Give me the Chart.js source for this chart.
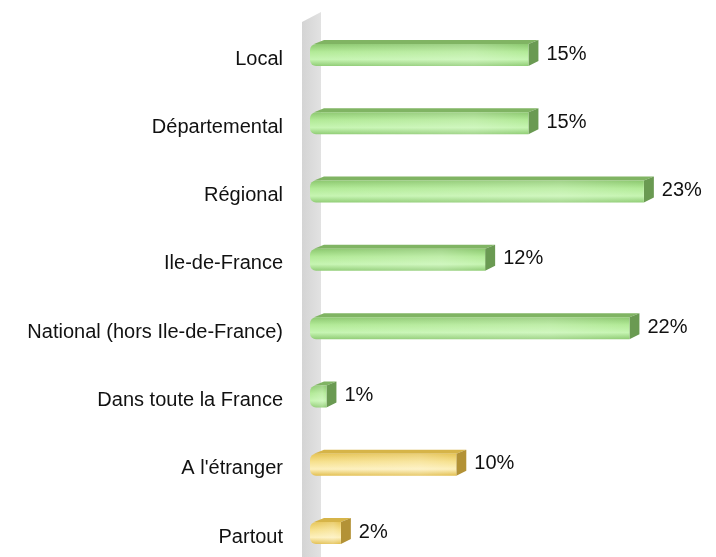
<!DOCTYPE html>
<html>
<head>
<meta charset="utf-8">
<script src="https://cdn.jsdelivr.net/npm/chart.js@4.4.1/dist/chart.umd.min.js"></script>
<style>
  html, body { margin: 0; padding: 0; background: #fff; }
  canvas { display: block; }
</style>
</head>
<body>
<canvas id="bars" width="716" height="557"></canvas>
<script>
const categories = ['Local', 'Départemental', 'Régional', 'Ile-de-France',
  'National (hors Ile-de-France)', 'Dans toute la France', "A l'étranger", 'Partout'];
const shares = [15, 15, 23, 12, 22, 1, 10, 2];
const valueLabels = ['15%', '15%', '23%', '12%', '22%', '1%', '10%', '2%'];
const tones = ['green', 'green', 'green', 'green', 'green', 'green', 'yellow', 'yellow'];

const palette = {
  green: { top: '#80b463', side: '#6a9a52', f0: '#8cc86f', f1: '#b2ea97', f2: '#c6f5b2', f3: '#8fcc74' },
  yellow: { top: '#d6b448', side: '#b39236', f0: '#e6c455', f1: '#f6e08c', f2: '#fdf0bc', f3: '#e2be4e' }
};

const DX = 10, DY = -4;

// grey back wall behind the bars
const wallPlugin = {
  id: 'wall',
  beforeDatasetsDraw(chart) {
    const ctx = chart.ctx;
    const x0 = chart.scales.x.getPixelForValue(0);
    const g = ctx.createLinearGradient(x0 - 10, 0, x0 + 9, 0);
    g.addColorStop(0, '#d4d4d4');
    g.addColorStop(1, '#e2e2e2');
    ctx.save();
    ctx.fillStyle = g;
    ctx.beginPath();
    ctx.moveTo(x0 - 10, 22);
    ctx.lineTo(x0 + 9, 12);
    ctx.lineTo(x0 + 9, chart.height);
    ctx.lineTo(x0 - 10, chart.height);
    ctx.closePath();
    ctx.fill();
    ctx.restore();
  }
};

// 3D bars with top and side faces, plus value labels
const bars3d = {
  id: 'bars3d',
  afterDatasetsDraw(chart) {
    const ctx = chart.ctx;
    const meta = chart.getDatasetMeta(0);
    meta.data.forEach((el, i) => {
      const p = el.getProps(['x', 'y', 'base', 'height'], true);
      const c = palette[tones[i]];
      const left = p.base - 2, right = p.x;
      const top = p.y - p.height / 2, bot = p.y + p.height / 2;
      ctx.save();

      // top face
      ctx.fillStyle = c.top;
      ctx.beginPath();
      ctx.moveTo(left + 4, top);
      ctx.lineTo(left + 4 + DX, top + DY);
      ctx.lineTo(right + DX, top + DY);
      ctx.lineTo(right, top);
      ctx.closePath();
      ctx.fill();

      // side face
      ctx.fillStyle = c.side;
      ctx.beginPath();
      ctx.moveTo(right, top);
      ctx.lineTo(right + DX, top + DY);
      ctx.lineTo(right + DX, bot + DY - 1);
      ctx.lineTo(right, bot);
      ctx.closePath();
      ctx.fill();

      // front face
      const g = ctx.createLinearGradient(0, top, 0, bot);
      g.addColorStop(0, c.f0);
      g.addColorStop(0.35, c.f1);
      g.addColorStop(0.7, c.f2);
      g.addColorStop(1, c.f3);
      ctx.fillStyle = g;
      ctx.beginPath();
      ctx.roundRect(left, top, right - left, bot - top, [6, 0, 0, 6]);
      ctx.fill();

      // soft highlight towards the right end
      const h = ctx.createLinearGradient(left, 0, right, 0);
      h.addColorStop(0, 'rgba(255,255,255,0)');
      h.addColorStop(0.75, 'rgba(255,255,255,0.18)');
      h.addColorStop(1, 'rgba(255,255,255,0)');
      ctx.fillStyle = h;
      ctx.beginPath();
      ctx.roundRect(left, top, right - left, bot - top, [6, 0, 0, 6]);
      ctx.fill();

      // value label
      ctx.fillStyle = '#111';
      ctx.font = '20px "Liberation Sans", Arial, sans-serif';
      ctx.textAlign = 'left';
      ctx.textBaseline = 'middle';
      ctx.fillText(valueLabels[i], right + DX + 8, p.y - 1);
      ctx.restore();
    });
  }
};

new Chart(document.getElementById('bars'), {
  type: 'bar',
  data: {
    labels: categories,
    datasets: [{
      data: shares,
      backgroundColor: 'rgba(0,0,0,0)',
      borderWidth: 0,
      barThickness: 22
    }]
  },
  options: {
    indexAxis: 'y',
    responsive: false,
    devicePixelRatio: 1,
    animation: false,
    layout: { padding: { top: 55, bottom: 24, left: 0, right: 0 } },
    plugins: {
      legend: { display: false },
      tooltip: { enabled: false }
    },
    scales: {
      x: { display: false, min: 0, max: 28 },
      y: {
        offset: false,
        grid: { display: false },
        border: { display: false },
        ticks: {
          color: '#111',
          padding: 21,
          labelOffset: 4,
          font: { family: '"Liberation Sans", Arial, sans-serif', size: 20 }
        },
        afterFit(scale) {
          scale.width = 312;
          scale.paddingTop = 0;
          scale.paddingBottom = 0;
        }
      }
    }
  },
  plugins: [wallPlugin, bars3d]
});
</script>
</body>
</html>
